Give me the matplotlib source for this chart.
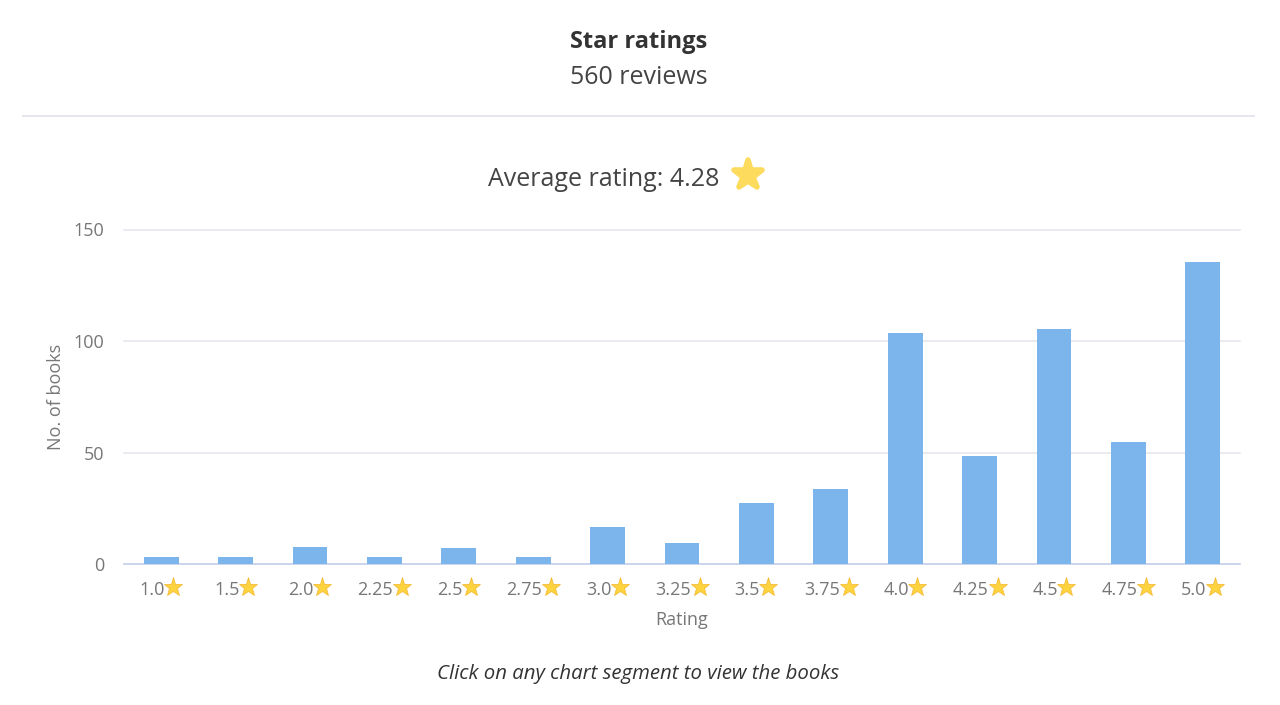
import matplotlib
matplotlib.use("Agg")
import matplotlib.pyplot as plt
from matplotlib.markers import MarkerStyle
from matplotlib.transforms import offset_copy

plt.rcParams['font.family'] = ['Open Sans', 'DejaVu Sans']

ratings = ["1.0", "1.5", "2.0", "2.25", "2.5", "2.75", "3.0", "3.25", "3.5", "3.75",
           "4.0", "4.25", "4.5", "4.75", "5.0"]
books = [3, 3, 7.5, 3, 7, 3, 16.5, 9.5, 27.5, 33.5, 103.5, 48.5, 105.5, 54.5, 135.5]
y_ticks = [0, 50, 100, 150]

W, H = 1280, 705
fig = plt.figure(figsize=(W / 100, H / 100), dpi=100, facecolor="white")
ax = fig.add_axes([124 / W, 1 - 564 / H, (1240 - 124) / W, (564 - 229.5) / H])

x = list(range(len(ratings)))
ax.bar(x, books, width=0.47, color="#7cb5ec", zorder=3)
ax.set_xlim(-0.5, len(ratings) - 0.5)
ax.set_ylim(0, 150)

ax.set_yticks(y_ticks)
ax.tick_params(axis="y", length=0, labelsize=13, labelcolor="#777777", pad=14)
ax.grid(axis="y", color="#e6e6ee", lw=1.2, zorder=0, clip_on=False)
ax.set_axisbelow(True)
for s in ["top", "left", "right"]:
    ax.spines[s].set_visible(False)
ax.spines["bottom"].set_color("#c5d3ec")
ax.spines["bottom"].set_linewidth(1.2)

ax.set_xticks(x)
ax.set_xticklabels(ratings)
ax.tick_params(axis="x", length=0, labelsize=13, labelcolor="#777777", pad=12)
for lab in ax.get_xticklabels():
    lab.set_transform(offset_copy(lab.get_transform(), fig=fig, x=-9, y=0, units="dots"))

# star beside each tick label
star_tf = ax.get_xaxis_transform()
for i, r in enumerate(ratings):
    shift = 12 if len(r) == 3 else 18
    ax.plot([i], [0], marker="*", ms=14, mfc="#fdd33f", mec="#f5b52a", mew=0.5,
            clip_on=False, ls="none", zorder=5,
            transform=offset_copy(star_tf, fig=fig, x=shift, y=-23, units="dots"))

ax.set_ylabel("No. of books", fontsize=13, color="#777777")
ax.yaxis.set_label_coords((65 - 124) / (1240 - 124), 0.5)
ax.set_xlabel("Rating", fontsize=13, color="#777777", va="center")
ax.xaxis.set_label_coords(558 / 1116, -(620 - 564) / (564 - 229.5))

def ft(px, py, s, **kw):
    fig.text(px / W, 1 - py / H, s, ha=kw.pop("ha", "center"), va="center", **kw)

ft(638.5, 42, "Star ratings", fontsize=17, fontweight="bold", color="#333333")
ft(638.5, 77, "560 reviews", fontsize=18, color="#444444")
ft(719, 179, "Average rating: 4.28", fontsize=18, color="#444444", ha="right")
ft(638.5, 674, "Click on any chart segment to view the books", fontsize=14.7,
   style="italic", color="#333333")

# header rule
fig.add_artist(plt.Line2D([23 / W, 1254 / W], [1 - 116 / H] * 2, color="#e3e5ea", lw=1.3))
# large star after the average
fig.add_artist(plt.Line2D([748 / W], [1 - 175 / H], marker=MarkerStyle("*", joinstyle="round"),
                          ms=21, mfc="#fddb5c", mec="#fddb5c", mew=4, ls="none"))

fig.savefig("out.png", dpi=100)
